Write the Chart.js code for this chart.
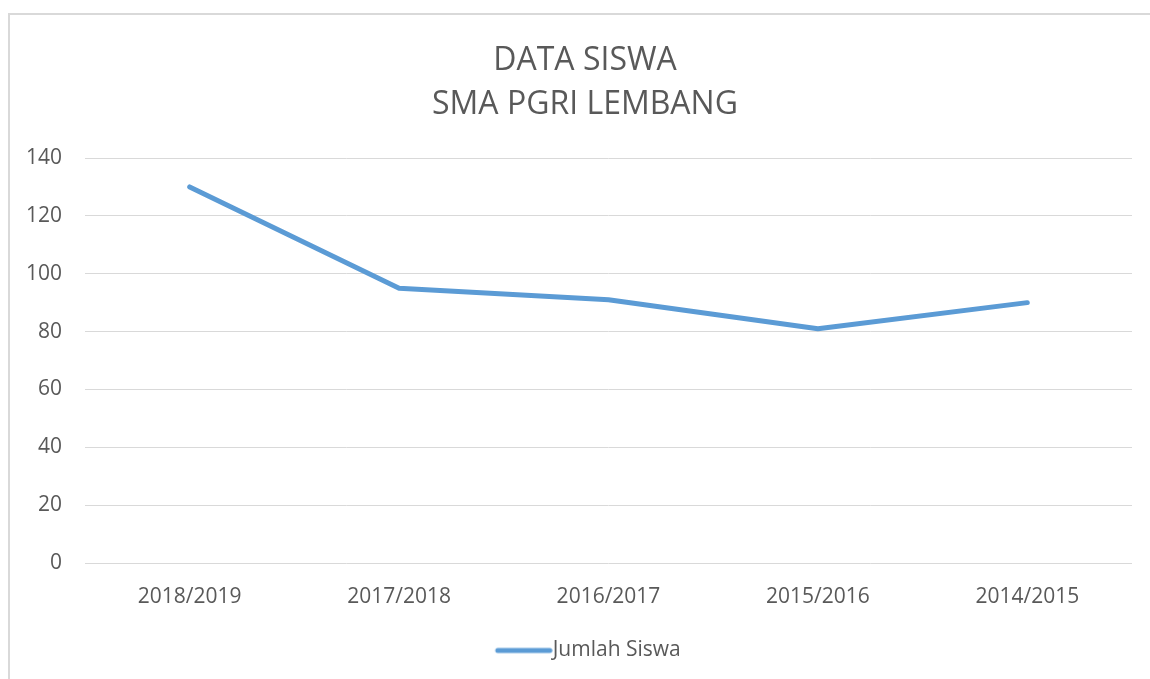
<!DOCTYPE html>
<html>
<head>
<meta charset="utf-8">
<script src="https://cdn.jsdelivr.net/npm/chart.js@4"></script>
<style>
  html, body { margin: 0; padding: 0; background: #fff; overflow: hidden; }
  #frame { position: absolute; left: 8px; top: 13px; width: 1200px; height: 720px; border: 2px solid #d9d9d9; }
  #wrap { position: absolute; left: 0; top: 0; width: 1150px; height: 679px; }
</style>
</head>
<body>
<div id="frame"></div>
<div id="wrap"><canvas id="chart" width="1150" height="679"></canvas></div>
<script>
// data
const tahun = ["2018/2019", "2017/2018", "2016/2017", "2015/2016", "2014/2015"];
const jumlahSiswa = [130, 95, 91, 81, 90];
const judul = ["DATA SISWA", "SMA PGRI LEMBANG"];

const grey = '#595959';
const biru = '#5b9bd5';

// legend marker: line sits on the right half so it ends just before the text
const marker = document.createElement('canvas');
marker.width = 112;
marker.height = 8;
const mctx = marker.getContext('2d');
mctx.strokeStyle = biru;
mctx.lineWidth = 5;
mctx.lineCap = 'round';
mctx.beginPath();
mctx.moveTo(57, 4);
mctx.lineTo(109, 4);
mctx.stroke();

// title is centred on the frame, not on the plot
const geserJudul = {
  id: 'geserJudul',
  afterLayout(chart) {
    if (chart.titleBlock) {
      chart.titleBlock.left = 38;
      chart.titleBlock.right = 1132;
    }
  }
};

const ctx = document.getElementById('chart').getContext('2d');

const config = {
  type: 'line',
  data: {
    labels: tahun,
    datasets: [{
      label: 'Jumlah Siswa',
      data: jumlahSiswa,
      borderColor: biru,
      backgroundColor: biru,
      borderWidth: 5,
      borderCapStyle: 'round',
      borderJoinStyle: 'round',
      pointRadius: 0,
      tension: 0
    }]
  },
  options: {
    responsive: false,
    animation: false,
    layout: { padding: { left: 0, right: 18, top: 0, bottom: 8 } },
    scales: {
      x: {
        offset: true,
        grid: { display: false },
        border: { display: false },
        ticks: { color: grey, font: { family: 'Open Sans', size: 21 }, padding: 13, maxRotation: 0 },
        afterFit: function (scale) { scale.height = 67; }
      },
      y: {
        min: 0,
        max: 140,
        ticks: { stepSize: 20, color: grey, font: { family: 'Open Sans', size: 21 }, padding: 23 },
        grid: { color: '#d9d9d9', lineWidth: 1, drawTicks: false },
        border: { display: false },
        afterFit: function (scale) { scale.width = 85; }
      }
    },
    plugins: {
      title: {
        display: true,
        text: judul,
        color: grey,
        font: { family: 'Open Sans', size: 32, weight: 'normal', lineHeight: 1.375 },
        padding: { top: 39, bottom: 31 }
      },
      legend: {
        display: true,
        position: 'bottom',
        labels: {
          color: grey,
          font: { family: 'Open Sans', size: 21 },
          usePointStyle: true,
          pointStyle: marker,
          pointStyleWidth: 91,
          padding: 10
        }
      },
      tooltip: { enabled: false }
    }
  },
  plugins: [geserJudul]
};

const myChart = new Chart(ctx, config);
</script>
</body>
</html>
